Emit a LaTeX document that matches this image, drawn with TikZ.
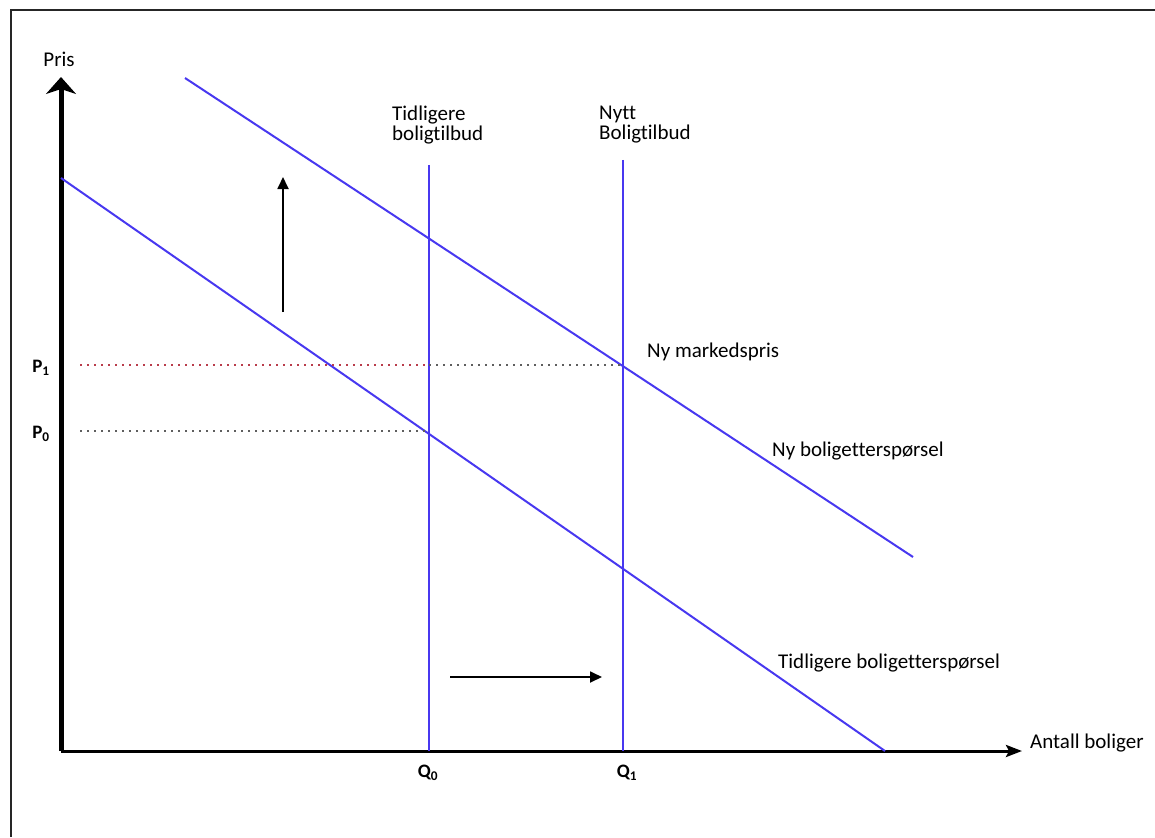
\documentclass[tikz,border=0pt]{standalone}
\usepackage{fontspec}
\setmainfont{Carlito}[Ligatures=NoCommon]
\usepackage{xcolor}
\definecolor{mkblue}{RGB}{72,56,240}
\definecolor{mkred}{RGB}{185,60,75}
\definecolor{mkgray}{RGB}{95,95,95}
\usetikzlibrary{arrows.meta,positioning}
\tikzset{
  axisline/.style={draw=black, line width=#1},
  curve/.style={draw=mkblue, line width=2pt},
  shiftarrow/.style={draw=black, line width=1.8pt, -{Triangle[length=12pt,width=11pt]}},
  guide/.style={draw=#1, line width=2pt, dash pattern=on 2pt off 5pt},
  lbl/.style={font=\fontsize{21}{20}\selectfont, inner sep=0pt, align=left},
  ticklbl/.style={font=\fontsize{19}{20}\selectfont\bfseries, inner sep=0pt},
}

\begin{document}
\begin{tikzpicture}[x=1pt, y=-1pt]
\useasboundingbox (0,0) rectangle (1155,837);

% frame
\draw[line width=2pt, draw=black!85] (11,837) -- (11,10) -- (1155,10);

% axes
\coordinate (O) at (61,751);
\coordinate (ytop) at (61,77);
\coordinate (xend) at (1022,751);
\draw[axisline=5pt, -{Stealth[length=17pt,width=30pt,inset=5pt]}] (O) -- (ytop);
\draw[axisline=3pt, -{Stealth[length=16pt,width=12pt,inset=3pt]}] (O) -- (xend);
\node[lbl] (pris) at (59,59) {Pris};
\node[lbl, anchor=west] (antall) at (1030,743) {Antall boliger};

% demand curves
\coordinate (d0a) at (61,178);  \coordinate (d0b) at (885,751);
\coordinate (d1a) at (185,78);  \coordinate (d1b) at (913,557);
\draw[curve] (d0a) -- (d0b);
\draw[curve] (d1a) -- (d1b);

% supply lines
\coordinate (s0a) at (429,165); \coordinate (s0b) at (429,751);
\coordinate (s1a) at (623,160); \coordinate (s1b) at (623,751);
\draw[curve] (s0a) -- (s0b);
\draw[curve] (s1a) -- (s1b);

% price guides
\coordinate (g1) at (80,365);  \coordinate (g1m) at (429,365); \coordinate (e1) at (623,365);
\coordinate (g0) at (80,431);  \coordinate (e0) at (429,431);
\draw[guide=mkred] (g1) -- (g1m);
\draw[guide=mkgray] (g1m) -- (e1);
\draw[guide=mkgray] (g0) -- (e0);

% shift arrows
\coordinate (up0) at (283,312); \coordinate (up1) at (283,177);
\coordinate (rt0) at (450,677); \coordinate (rt1) at (602,677);
\draw[shiftarrow] (up0) -- (up1);
\draw[shiftarrow] (rt0) -- (rt1);

% tick labels
\node[ticklbl] (p1) at (41,368) {P\textsubscript{1}};
\node[ticklbl] (p0) at (41,434) {P\textsubscript{0}};
\node[ticklbl] (q0) at (428,773) {Q\textsubscript{0}};
\node[ticklbl] (q1) at (627,773) {Q\textsubscript{1}};

% curve labels
\node[lbl, anchor=north west] (oldsup) at (392,106) {Tidligere\\boligtilbud};
\node[lbl, anchor=north west] (newsup) at (599,106) {Nytt\\Boligtilbud};
\node[lbl, anchor=west] (mkpris) at (647,352) {Ny markedspris};
\node[lbl, anchor=west] (newdem) at (772,451) {Ny boligetterspørsel};
\node[lbl, anchor=west] (olddem) at (778,663) {Tidligere boligetterspørsel};

\end{tikzpicture}
\end{document}
